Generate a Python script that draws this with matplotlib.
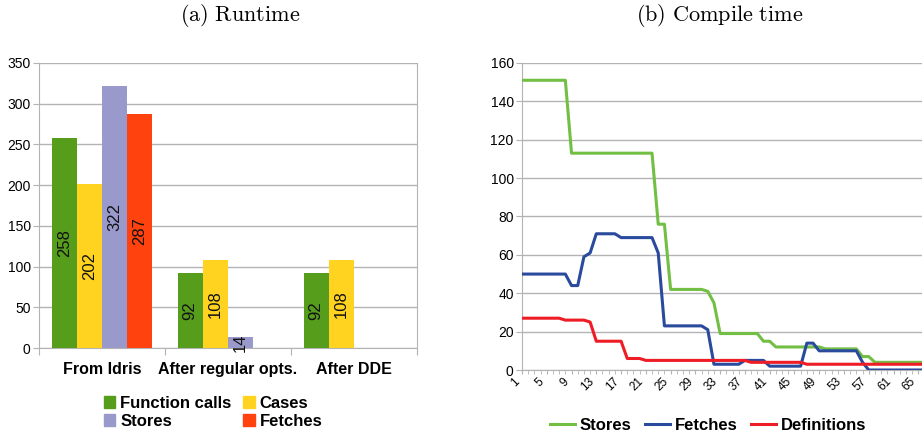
import matplotlib
matplotlib.use("Agg")
import matplotlib.pyplot as plt
import numpy as np
from matplotlib.patches import Patch
from matplotlib.lines import Line2D

plt.rcParams['font.family'] = ['Liberation Sans', 'DejaVu Sans']
plt.rcParams['mathtext.fontset'] = 'cm'

# (a) Runtime
phases = ["From Idris", "After regular opts.", "After DDE"]
runtime_series = ["Function calls", "Cases", "Stores", "Fetches"]
function_calls = [258, 92, 92]
cases = [202, 108, 108]
stores_rt = [322, 14, np.nan]
fetches_rt = [287, np.nan, np.nan]
bar_colors = ['#579d1c', '#ffd320', '#9999cc', '#ff420e']

# (b) Compile time
iterations = list(range(1, 67))
stores_ct = [151, 151, 151, 151, 151, 151, 151, 151,
             113, 113, 113, 113, 113, 113, 113, 113, 113, 113, 113, 113, 113, 113,
             76, 76, 42, 42, 42, 42, 42, 42, 41, 35,
             19, 19, 19, 19, 19, 19, 19, 15, 15,
             12, 12, 12, 12, 12, 12, 12, 12,
             11, 11, 11, 11, 11, 11, 7, 7,
             4, 4, 4, 4, 4, 4, 4, 4, 4]
fetches_ct = [50, 50, 50, 50, 50, 50, 50, 50, 44, 44, 59, 61,
              71, 71, 71, 71, 69, 69, 69, 69, 69, 69, 61,
              23, 23, 23, 23, 23, 23, 23, 21,
              3, 3, 3, 3, 3, 5, 5, 5, 5,
              2, 2, 2, 2, 2, 2, 14, 14,
              10, 10, 10, 10, 10, 10, 10, 4,
              0, 0, 0, 0, 0, 0, 0, 0, 0, 0]
definitions_ct = [27, 27, 27, 27, 27, 27, 27, 26, 26, 26, 26, 25,
                  15, 15, 15, 15, 15, 6, 6, 6,
                  5, 5, 5, 5, 5, 5, 5, 5, 5, 5, 5, 5, 5, 5, 5, 5, 5,
                  4, 4, 4, 4, 4, 4, 4, 4, 4,
                  3, 3, 3, 3, 3, 3, 3, 3, 3, 3, 3, 3, 3, 3, 3, 3, 3, 3, 3, 3]
line_labels = ["Stores", "Fetches", "Definitions"]
line_colors = ['#72bf44', '#2a4a9e', '#ee1c25']

grid_c = '#b3b3b3'

fig = plt.figure(figsize=(9.22, 4.36), dpi=100)
ax1 = fig.add_axes([39 / 922, 88 / 436, 378 / 922, 285 / 436])
ax2 = fig.add_axes([522 / 922, 66 / 436, 400 / 922, 307 / 436])

# ---- left: grouped bars
x = np.arange(len(phases))
width = 0.2
all_vals = [function_calls, cases, stores_rt, fetches_rt]
for i, (vals, col) in enumerate(zip(all_vals, bar_colors)):
    pos = x + (i - 1.5) * width
    ax1.bar(pos, vals, width, color=col, zorder=3)
    for p, v in zip(pos, vals):
        if not np.isnan(v):
            ax1.text(p, v / 2, str(int(v)), rotation=90, ha='center', va='center',
                     fontsize=12, color='#111111', zorder=4)

ax1.set_xlim(-0.5, 2.5)
ax1.set_ylim(0, 350)
ax1.set_yticks(range(0, 351, 50))
ax1.set_xticks([-0.5, 0.5, 1.5, 2.5])
ax1.set_xticklabels([])
ax1.set_xticks(x, minor=True)
ax1.set_xticklabels(phases, minor=True, fontsize=11.5, fontweight='bold')
ax1.tick_params(axis='x', which='minor', length=0, pad=10)
ax1.tick_params(axis='x', which='major', length=5, color=grid_c)
ax1.tick_params(axis='y', length=4, color=grid_c, labelsize=10, pad=2)
ax1.grid(axis='y', color=grid_c, linewidth=1, zorder=0)
for s in ['left', 'right', 'bottom']:
    ax1.spines[s].set_color(grid_c)
ax1.spines['top'].set_visible(False)

handles = [Patch(color=bar_colors[0]), Patch(color=bar_colors[2]),
           Patch(color=bar_colors[1]), Patch(color=bar_colors[3])]
labels = [runtime_series[0], runtime_series[2], runtime_series[1], runtime_series[3]]
fig.legend(handles, labels, loc='center', bbox_to_anchor=(213 / 922, 0.054), ncol=2,
           frameon=False, prop={'size': 12, 'weight': 'bold'}, handlelength=0.7,
           handleheight=0.7, handletextpad=0.3, columnspacing=0.7, labelspacing=0.2)

# ---- right: lines
for vals, col, lab in zip([stores_ct, fetches_ct, definitions_ct], line_colors, line_labels):
    ax2.plot(iterations, vals, color=col, linewidth=2.2, label=lab, zorder=3)

ax2.set_xlim(1, 65.6)
ax2.set_ylim(0, 160)
ax2.set_yticks(range(0, 161, 20))
ax2.set_xticks(range(1, 66, 4))
ax2.set_xticks(iterations[:65], minor=True)
plt.setp(ax2.get_xticklabels(), rotation=45, ha='right', fontsize=8.5)
ax2.tick_params(axis='x', which='both', length=3, color=grid_c, pad=1)
ax2.tick_params(axis='y', length=4, color=grid_c, labelsize=10, pad=2)
ax2.grid(axis='y', color=grid_c, linewidth=1, zorder=0)
ax2.spines['left'].set_color(grid_c)
ax2.spines['bottom'].set_color(grid_c)
ax2.spines['top'].set_visible(False)
ax2.spines['right'].set_visible(False)

fig.legend(handles=[Line2D([], [], color=c, linewidth=2.2) for c in line_colors],
           labels=line_labels, loc='center', bbox_to_anchor=(708 / 922, 0.025), ncol=3,
           frameon=False, prop={'size': 12, 'weight': 'bold'}, handlelength=1.5,
           handletextpad=0.3, columnspacing=0.8)

fig.text(240 / 922, 0.965, r'$\mathrm{(a)\ Runtime}$', ha='center', va='center', fontsize=16)
fig.text(720 / 922, 0.965, r'$\mathrm{(b)\ Compile\ time}$', ha='center', va='center', fontsize=16)

fig.savefig('out.png', dpi=100)
